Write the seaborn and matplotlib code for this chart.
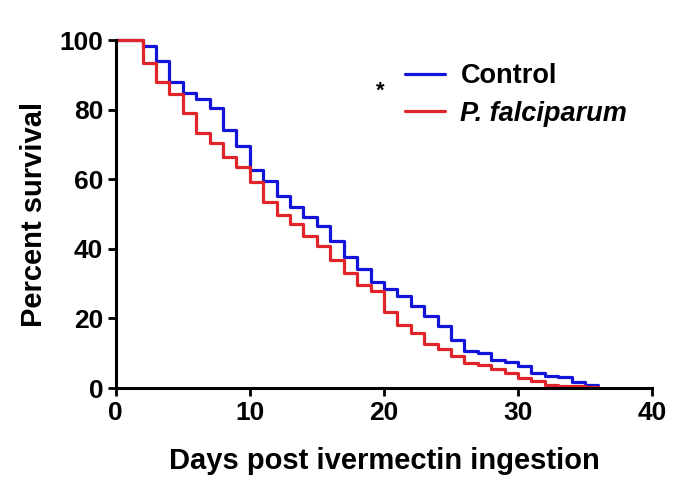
import numpy as np
import pandas as pd
import matplotlib
matplotlib.use("Agg")
import matplotlib.pyplot as plt
import seaborn as sns

days = list(range(0, 37))
control = [100, 100, 98.3, 94, 88, 84.9, 83, 80.4, 74.1, 69.6, 62.6, 59.5, 55.2, 52.1,
           49.3, 46.5, 42.4, 37.6, 34.2, 30.5, 28.6, 26.6, 23.5, 20.8, 17.8, 13.8, 10.7,
           10.1, 8.2, 7.5, 6.3, 4.2, 3.4, 3.1, 1.8, 0.9, 0.9]
falciparum = [100, 100, 93.3, 88, 84.4, 79, 73.4, 70.3, 66.5, 63.4, 59.2, 53.5, 49.6, 47.2,
              43.6, 40.8, 36.7, 33, 29.5, 27.9, 21.9, 18.1, 15.8, 12.8, 11.2, 9.2, 7.3,
              6.6, 5.6, 4.2, 2.8, 2.1, 0.9, 0.6, 0.5, 0.3, 0.3]
groups = ["Control", "P. falciparum"]
colors = ["#1414d8", "#e0242a"]

df = pd.DataFrame({
    "day": days * 2,
    "survival": control + falciparum,
    "group": [groups[0]] * len(days) + [groups[1]] * len(days),
})

sns.set_style("ticks")
plt.rcParams['font.family'] = ['Liberation Sans', 'DejaVu Sans']
plt.rcParams['font.weight'] = 'bold'
plt.rcParams['text.color'] = 'black'
plt.rcParams['axes.labelcolor'] = 'black'
plt.rcParams['xtick.color'] = 'black'
plt.rcParams['ytick.color'] = 'black'

fig = plt.figure(figsize=(6.85, 4.95), dpi=100)
ax = fig.add_axes([0.169, 0.216, 0.783, 0.703])

sns.lineplot(data=df, x="day", y="survival", hue="group", palette=colors,
             drawstyle="steps-post", linewidth=2.3, ax=ax)

ax.set_xlim(0, 40)
ax.set_ylim(0, 100)
ax.set_xticks([0, 10, 20, 30, 40])
ax.set_yticks([0, 20, 40, 60, 80, 100])
ax.tick_params(axis='both', labelsize=19, width=2, length=6, direction='out', pad=3)
for t in ax.get_xticklabels() + ax.get_yticklabels():
    t.set_fontweight('bold')
for s in ["top", "right"]:
    ax.spines[s].set_visible(False)
for s in ["left", "bottom"]:
    ax.spines[s].set_linewidth(2.2)
    ax.spines[s].set_color('black')
for line in ax.lines:
    line.set_clip_on(False)

ax.set_xlabel("Days post ivermectin ingestion", fontsize=21, fontweight='bold', labelpad=16)
ax.set_ylabel("Percent survival", fontsize=21, fontweight='bold', labelpad=8)

leg = ax.legend(loc="center left", bbox_to_anchor=(0.539, 0.842), frameon=False,
                fontsize=19.5, handlelength=1.5, handletextpad=0.55, labelspacing=0.42,
                borderpad=0, borderaxespad=0)
for h in leg.get_lines():
    h.set_linewidth(2.3)
leg.get_texts()[1].set_fontstyle('italic')
for t in leg.get_texts():
    t.set_fontweight('bold')
ax.text(0.493, 0.852, "*", transform=ax.transAxes, fontsize=16, ha='center', va='center')

fig.savefig("out.png", dpi=100)
